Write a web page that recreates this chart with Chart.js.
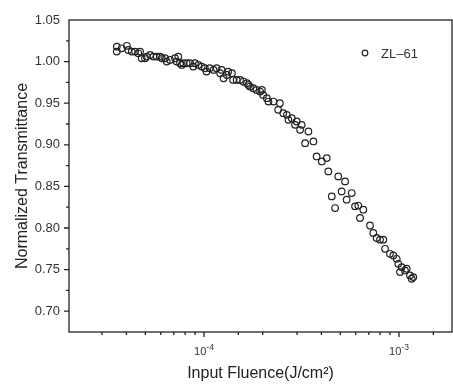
<!DOCTYPE html>
<html>
<head>
<meta charset="utf-8">
<script src="https://cdn.jsdelivr.net/npm/chart.js@4.4.1/dist/chart.umd.min.js"></script>
<style>
    body { margin: 0; background: #fff; }
    #wrap { width: 453px; height: 384px; }
</style>
</head>
<body>
<div id="wrap"><canvas id="zl-chart" width="453" height="384"></canvas></div>
<script>
// Input fluence (J/cm^2) and normalized transmittance
const fluence = [
    3.57e-5, 3.57e-5, 3.78e-5, 4.02e-5, 4.09e-5, 4.26e-5, 4.43e-5, 4.60e-5, 4.70e-5, 4.79e-5,
    4.98e-5, 5.08e-5, 5.29e-5, 5.50e-5, 5.72e-5, 5.95e-5, 6.07e-5, 6.31e-5, 6.44e-5, 6.69e-5,
    7.10e-5, 7.24e-5, 7.38e-5, 7.53e-5, 7.69e-5, 7.83e-5, 8.15e-5, 8.48e-5, 8.81e-5, 8.99e-5,
    9.35e-5, 9.73e-5, 1.01e-4, 1.03e-4, 1.07e-4, 1.12e-4, 1.16e-4, 1.21e-4, 1.23e-4, 1.26e-4,
    1.31e-4, 1.33e-4, 1.39e-4, 1.41e-4, 1.47e-4, 1.53e-4, 1.59e-4, 1.66e-4, 1.69e-4, 1.72e-4,
    1.79e-4, 1.86e-4, 1.94e-4, 1.98e-4, 2.01e-4, 2.10e-4, 2.14e-4, 2.27e-4, 2.45e-4, 2.40e-4,
    2.55e-4, 2.66e-4, 2.71e-4, 2.82e-4, 2.93e-4, 2.99e-4, 3.11e-4, 3.17e-4, 3.30e-4, 3.43e-4,
    3.64e-4, 3.78e-4, 4.02e-4, 4.26e-4, 4.34e-4, 4.52e-4, 4.70e-4, 4.88e-4, 5.08e-4, 5.29e-4,
    5.39e-4, 5.72e-4, 5.95e-4, 6.18e-4, 6.31e-4, 6.56e-4, 7.10e-4, 7.38e-4, 7.68e-4, 7.99e-4,
    8.31e-4, 8.48e-4, 8.99e-4, 9.35e-4, 9.73e-4, 9.92e-4, 1.032e-3, 1.012e-3, 1.073e-3, 1.095e-3,
    1.139e-3, 1.162e-3, 1.184e-3
];
const transmittance = [
    1.018, 1.012, 1.016, 1.019, 1.014, 1.012, 1.012, 1.010, 1.012, 1.004,
    1.004, 1.006, 1.008, 1.006, 1.006, 1.006, 1.004, 1.004, 1.000, 1.002,
    1.004, 1.000, 1.006, 0.998, 0.996, 0.998, 0.998, 0.998, 0.994, 0.998,
    0.996, 0.994, 0.992, 0.988, 0.992, 0.990, 0.992, 0.986, 0.990, 0.980,
    0.984, 0.988, 0.986, 0.978, 0.978, 0.978, 0.976, 0.974, 0.972, 0.970,
    0.968, 0.966, 0.964, 0.966, 0.960, 0.956, 0.952, 0.952, 0.950, 0.942,
    0.938, 0.936, 0.930, 0.932, 0.924, 0.928, 0.918, 0.924, 0.902, 0.916,
    0.904, 0.886, 0.880, 0.884, 0.868, 0.838, 0.824, 0.862, 0.844, 0.856,
    0.834, 0.842, 0.826, 0.827, 0.812, 0.822, 0.803, 0.794, 0.788, 0.786,
    0.786, 0.775, 0.769, 0.767, 0.763, 0.757, 0.753, 0.747, 0.749, 0.751,
    0.743, 0.739, 0.741
];

const yTickValues = [0.70, 0.75, 0.80, 0.85, 0.90, 0.95, 1.00, 1.05];
const yTickLabels = ['0.70', '0.75', '0.80', '0.85', '0.90', '0.95', '1.00', '1.05'];
const xTickValues = [1e-4, 1e-3];
const xTickBase = ['10', '10'];
const xTickExp = ['-4', '-3'];

const seriesName = 'ZL\u201361';
const ink = '#222';
const sans = "'Liberation Sans', Arial, sans-serif";

const isDecade = v => Math.abs(Math.log10(v) - Math.round(Math.log10(v))) < 1e-6;

// frame box, short outward ticks, x labels with superscripts, legend
const framePlugin = {
    id: 'frame',
    afterDraw(chart) {
        const { ctx, chartArea: a, scales: { x, y } } = chart;
        ctx.save();
        ctx.strokeStyle = ink;
        ctx.lineWidth = 1.3;
        ctx.strokeRect(a.left, a.top, a.right - a.left, a.bottom - a.top);

        ctx.beginPath();
        x.ticks.forEach(t => {
            const px = x.getPixelForValue(t.value);
            if (px < a.left + 2 || px > a.right - 2) return;
            const len = isDecade(t.value) ? 5 : 3;
            ctx.moveTo(px, a.bottom);
            ctx.lineTo(px, a.bottom + len);
        });
        y.ticks.forEach(t => {
            const py = y.getPixelForValue(t.value);
            if (py < a.top + 2 || py > a.bottom - 2) return;
            const major = yTickValues.some(v => Math.abs(v - t.value) < 1e-6);
            ctx.moveTo(a.left, py);
            ctx.lineTo(a.left - (major ? 5 : 3), py);
        });
        ctx.stroke();

        // x tick labels: 10 with a raised exponent
        ctx.fillStyle = '#333';
        ctx.textBaseline = 'alphabetic';
        ctx.textAlign = 'left';
        xTickValues.forEach((v, i) => {
            const px = x.getPixelForValue(v);
            ctx.font = '11px ' + sans;
            const wb = ctx.measureText(xTickBase[i]).width;
            ctx.font = '8.5px ' + sans;
            const we = ctx.measureText(xTickExp[i]).width;
            const start = px - (wb + we) / 2;
            ctx.font = '11px ' + sans;
            ctx.fillText(xTickBase[i], start, a.bottom + 23);
            ctx.font = '8.5px ' + sans;
            ctx.fillText(xTickExp[i], start + wb, a.bottom + 18);
        });

        // legend
        const lx = a.right - 87, ly = a.top + 33;
        ctx.lineWidth = 1.2;
        ctx.beginPath();
        ctx.arc(lx, ly, 2.8, 0, Math.PI * 2);
        ctx.stroke();
        ctx.font = '13px ' + sans;
        ctx.textBaseline = 'middle';
        ctx.fillText(chart.data.datasets[0].label, lx + 16, ly + 1);
        ctx.restore();
    }
};

new Chart(document.getElementById('zl-chart').getContext('2d'), {
    type: 'scatter',
    data: {
        datasets: [{
            label: seriesName,
            data: fluence.map((f, i) => ({ x: f, y: transmittance[i] })),
            pointStyle: 'circle',
            pointRadius: 3.3,
            borderWidth: 1.2,
            borderColor: ink,
            backgroundColor: 'rgba(0,0,0,0)'
        }]
    },
    options: {
        responsive: false,
        animation: false,
        layout: { autoPadding: false, padding: { top: 20, right: 1, left: 0, bottom: 0 } },
        plugins: { legend: { display: false }, tooltip: { enabled: false } },
        scales: {
            x: {
                type: 'logarithmic',
                min: 2.03e-5,
                max: 1.87e-3,
                grid: { display: false, drawTicks: false },
                border: { display: false },
                ticks: {
                    autoSkip: false,
                    maxRotation: 0,
                    padding: 0,
                    callback: () => ''
                },
                title: {
                    display: true,
                    text: 'Input Fluence(J/cm\u00B2)',
                    color: ink,
                    font: { size: 16, family: sans },
                    padding: { top: 0, bottom: 1 }
                },
                afterFit: s => { s.height = 52; }
            },
            y: {
                min: 0.675,
                max: 1.05,
                grid: { display: false, drawTicks: false },
                border: { display: false },
                ticks: {
                    stepSize: 0.025,
                    autoSkip: false,
                    padding: 9,
                    color: '#333',
                    font: { size: 13, family: sans },
                    callback: v => {
                        const i = yTickValues.findIndex(t => Math.abs(t - v) < 1e-6);
                        return i >= 0 ? yTickLabels[i] : '';
                    }
                },
                title: {
                    display: true,
                    text: 'Normalized Transmittance',
                    color: ink,
                    font: { size: 16, family: sans },
                    padding: { top: 13, bottom: 0 }
                },
                afterFit: s => { s.width = 69; }
            }
        }
    },
    plugins: [framePlugin]
});
</script>
</body>
</html>
